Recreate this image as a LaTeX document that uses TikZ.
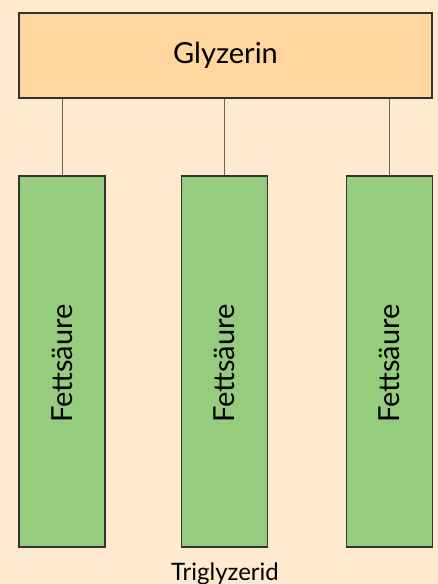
\documentclass[tikz,border=0pt]{standalone}
\usepackage{fontspec}
\setmainfont{Lato}
\usepackage{tikz}
\usetikzlibrary{positioning}
\definecolor{bgcol}{HTML}{FEEBCF}
\definecolor{glycol}{HTML}{FED69E}
\definecolor{fatcol}{HTML}{95CC7E}
\definecolor{edgecol}{HTML}{333333}
\definecolor{linecol}{HTML}{6B6258}
\tikzset{glymod/.style={rectangle,draw=edgecol,line width=1.1pt,fill=glycol,minimum width=413pt,minimum height=85pt,inner sep=0pt,font=\fontsize{29}{34}\selectfont},
		fatmod/.style={rectangle,draw=edgecol,line width=1.1pt,fill=fatcol,minimum width=86pt,minimum height=371pt,inner sep=0pt},
		fattext/.style={rotate=90,font=\fontsize{29}{34}\selectfont},
		bond/.style={draw=linecol,line width=1pt}}

\begin{document}
\begin{tikzpicture}[x=1pt,y=-1pt]
		\fill[bgcol] (0,0) rectangle (438,584);
		\useasboundingbox (0,0) rectangle (438,584);
		\node[glymod] (glyzerin) at (225.5,55.5) {Glyzerin};
		\node[fatmod] (fs1) at (62,361.5) {};
		\node[fatmod] (fs2) at (224.5,361.5) {};
		\node[fatmod] (fs3) at (389.5,361.5) {};
		\node[fattext] (fs1-text) at ([yshift=-2pt]fs1.center) {Fettsäure};
		\node[fattext] (fs2-text) at ([yshift=-2pt]fs2.center) {Fettsäure};
		\node[fattext] (fs3-text) at ([yshift=-2pt]fs3.center) {Fettsäure};
		\draw[bond] (glyzerin.south -| fs1.north) -- (fs1.north);
		\draw[bond] (glyzerin.south -| fs2.north) -- (fs2.north);
		\draw[bond] (glyzerin.south -| fs3.north) -- (fs3.north);
		\node[anchor=base,font=\fontsize{24}{28}\selectfont] (triglyzerid) at (225,580) {Triglyzerid};
	\end{tikzpicture}
\end{document}
